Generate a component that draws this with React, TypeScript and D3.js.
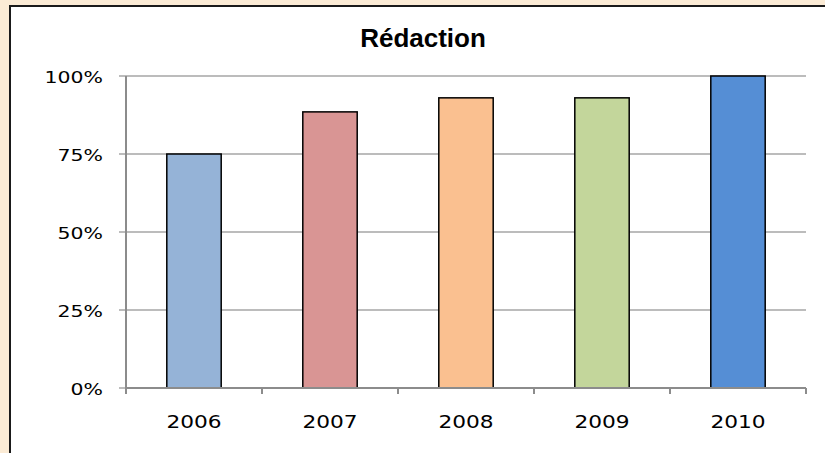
import React from "react";
import * as d3 from "d3";

const categories = ["2006", "2007", "2008", "2009", "2010"];
const values = [75, 88.5, 93, 93, 100];
const colors = ["#95B3D7", "#D99594", "#FAC090", "#C3D69B", "#558ED5"];
const yTicks = [0, 25, 50, 75, 100];
const title = "Rédaction";

const tickFont = "'DejaVu Sans', Verdana, sans-serif";

export default function App() {
  const W = 825, H = 453;
  const left = 126, right = 806, top = 76, bottom = 388;
  const x = d3.scaleBand<string>().domain(categories).range([left, right]).paddingInner(0).paddingOuter(0);
  const y = d3.scaleLinear().domain([0, 100]).range([bottom, top]);
  const bw = x.bandwidth() * 0.4;
  const sx = 1.24;
  return (
    <svg width={W} height={H} style={{ position: "absolute", left: 0, top: 0, display: "block" }}>
      <rect x={0} y={0} width={W} height={H} fill="#FBEBD5" />
      <rect x={10} y={6} width={W} height={H} fill="#FFFFFF" stroke="#1a1a1a" strokeWidth={2} />
      <text x={423} y={47} textAnchor="middle" fontFamily="'Liberation Sans', Arial, sans-serif" fontWeight="bold" fontSize={26} fill="#000">{title}</text>
      {yTicks.map((t) => (
        <g key={t}>
          {t > 0 && <line x1={left} x2={right} y1={y(t)} y2={y(t)} stroke="#A6A6A6" strokeWidth={1.5} />}
          <line x1={left - 7} x2={left} y1={y(t)} y2={y(t)} stroke="#A6A6A6" strokeWidth={1.5} />
          <g transform={`translate(${left - 23},${y(t) + 7}) scale(${sx},1)`}>
            <text x={0} y={0} textAnchor="end" fontFamily={tickFont} fontSize={16.5} fill="#000">{t + "%"}</text>
          </g>
        </g>
      ))}
      {categories.map((c, i) => (
        <g key={c}>
          <rect x={x(c)! + (x.bandwidth() - bw) / 2} y={y(values[i])} width={bw} height={bottom - y(values[i])} fill={colors[i]} stroke="#000" strokeWidth={1.5} />
          <g transform={`translate(${x(c)! + x.bandwidth() / 2},${bottom + 40}) scale(${sx},1)`}>
            <text x={0} y={0} textAnchor="middle" fontFamily={tickFont} fontSize={17.5} fill="#000">{c}</text>
          </g>
        </g>
      ))}
      <line x1={left} x2={left} y1={top} y2={bottom} stroke="#8C8C8C" strokeWidth={2} />
      <line x1={left} x2={right} y1={bottom} y2={bottom} stroke="#8C8C8C" strokeWidth={2} />
      {[...categories.map((c) => x(c)!), right].map((p, i) => (
        <line key={i} x1={p} x2={p} y1={bottom} y2={bottom + 6} stroke="#8C8C8C" strokeWidth={2} />
      ))}
    </svg>
  );
}
